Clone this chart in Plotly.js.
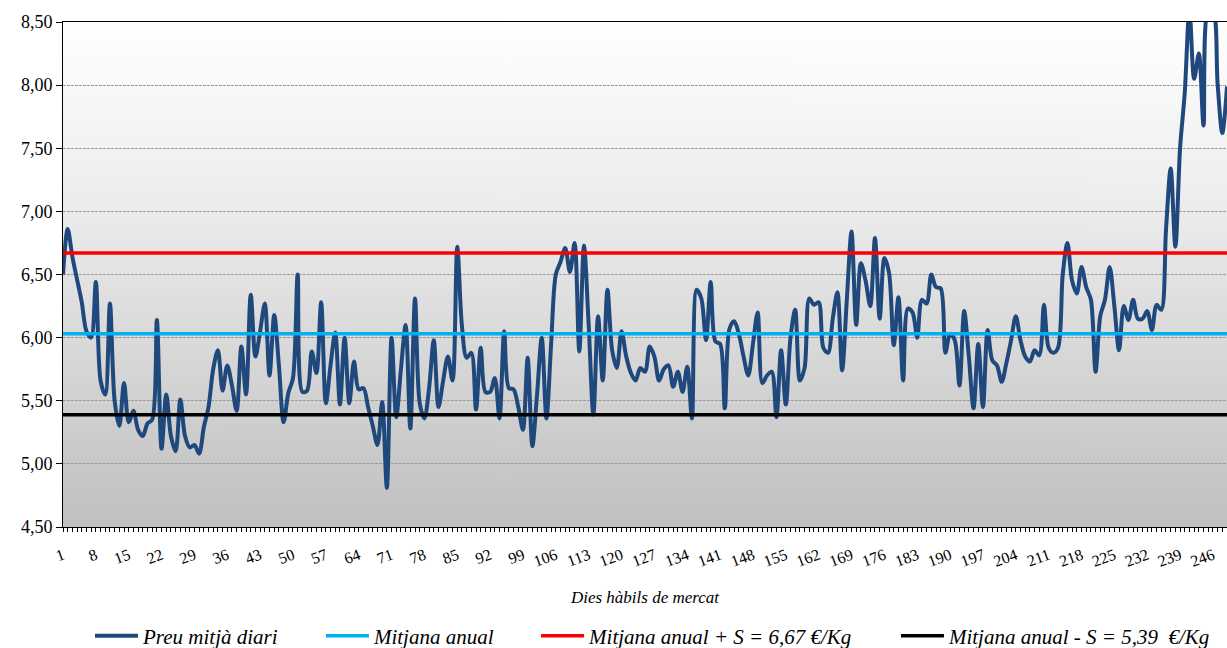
<!DOCTYPE html>
<html><head><meta charset="utf-8">
<script src="https://cdn.plot.ly/plotly-3.0.1.min.js"></script>
<style>html,body{margin:0;padding:0;background:#fff}#chart{width:1227px;height:648px}</style>
</head><body><div id="chart"></div>
<script>
// Category axis: market working days
const days = Array.from({length: 249}, (_, i) => i + 1);

// Daily mean price (€/Kg)
const preuMitjaDiari = [
  6.50, 6.86, 6.64, 6.46, 6.28, 6.05, 6.00, 6.44, 5.66, 5.55,
  6.27, 5.50, 5.30, 5.64, 5.33, 5.42, 5.27, 5.22, 5.32, 5.35,
  6.14, 5.12, 5.55, 5.22, 5.10, 5.51, 5.22, 5.13, 5.15, 5.08,
  5.29, 5.45, 5.75, 5.90, 5.58, 5.78, 5.62, 5.42, 5.93, 5.55,
  6.34, 5.85, 6.05, 6.27, 5.70, 6.18, 5.78, 5.33, 5.56, 5.68,
  6.50, 5.57, 5.58, 5.89, 5.72, 6.28, 5.48, 5.78, 6.04, 5.47,
  6.00, 5.48, 5.81, 5.59, 5.60, 5.45, 5.30, 5.15, 5.49, 4.81,
  6.00, 5.37, 5.75, 6.10, 5.28, 6.31, 5.48, 5.36, 5.60, 5.98,
  5.45, 5.66, 5.85, 5.66, 6.72, 6.09, 5.84, 5.88, 5.43, 5.92,
  5.57, 5.57, 5.68, 5.36, 6.05, 5.60, 5.59, 5.45, 5.27, 5.84,
  5.14, 5.55, 6.00, 5.36, 5.95, 6.50, 6.60, 6.71, 6.52, 6.75,
  5.89, 6.73, 6.10, 5.39, 6.17, 5.66, 6.38, 5.90, 5.76, 6.05,
  5.85, 5.72, 5.66, 5.76, 5.73, 5.93, 5.85, 5.66, 5.75, 5.78,
  5.61, 5.73, 5.57, 5.77, 5.36, 6.38, 6.31, 5.98, 6.44, 5.97,
  5.95, 5.44, 6.07, 6.13, 6.03, 5.85, 5.70, 5.95, 6.20, 5.64,
  5.70, 5.73, 5.37, 5.90, 5.47, 6.00, 6.22, 5.66, 5.76, 6.31,
  6.26, 6.28, 5.92, 5.88, 6.15, 6.36, 5.74, 6.30, 6.84, 6.10,
  6.59, 6.45, 6.25, 6.79, 6.15, 6.63, 6.51, 5.94, 6.32, 5.66,
  6.23, 6.20, 6.00, 6.30, 6.27, 6.50, 6.40, 6.39, 5.88, 6.03,
  5.98, 5.62, 6.21, 5.85, 5.44, 5.95, 5.45, 6.06, 5.82, 5.78,
  5.65, 5.80, 5.98, 6.17, 5.98, 5.85, 5.81, 5.90, 5.86, 6.26,
  5.92, 5.88, 5.92, 6.50, 6.75, 6.45, 6.35, 6.56, 6.40, 6.30,
  5.73, 6.17, 6.30, 6.56, 6.25, 5.90, 6.25, 6.14, 6.30, 6.15,
  6.15, 6.21, 6.06, 6.26, 6.22, 6.85, 7.34, 6.72, 7.50, 7.94,
  8.60, 8.05, 8.25, 7.68, 8.60, 8.60, 8.01, 7.62, 7.99
];

// Reference levels
const mitjanaAnual = 6.03;
const mitjanaMesS = 6.67;
const mitjanaMenysS = 5.39;

const seriesNames = [
  'Preu mitjà diari',
  'Mitjana anual',
  'Mitjana anual + S = 6,67 €/Kg',
  'Mitjana anual - S = 5,39  €/Kg'
];
const xTitle = 'Dies hàbils de mercat';

const serif = 'Liberation Serif, Times New Roman, serif';

// Background gradient (style only)
const cv = document.createElement('canvas');
cv.width = 4; cv.height = 256;
const ctx = cv.getContext('2d');
const g = ctx.createLinearGradient(0, 0, 0, 256);
g.addColorStop(0, '#ffffff');
g.addColorStop(0.35, '#ededed');
g.addColorStop(1, '#c0c0c0');
ctx.fillStyle = g; ctx.fillRect(0, 0, 4, 256);

const traces = [
  {x: days, y: preuMitjaDiari, name: seriesNames[0], type: 'scatter', mode: 'lines',
   line: {color: '#1F497D', width: 4, shape: 'spline', smoothing: 0.9}, legend: 'legend'},
  {x: days, y: days.map(() => mitjanaAnual), name: seriesNames[1], type: 'scatter', mode: 'lines',
   line: {color: '#00B0F0', width: 3.5}, legend: 'legend2'},
  {x: days, y: days.map(() => mitjanaMesS), name: seriesNames[2], type: 'scatter', mode: 'lines',
   line: {color: '#FF0000', width: 3.5}, legend: 'legend3'},
  {x: days, y: days.map(() => mitjanaMenysS), name: seriesNames[3], type: 'scatter', mode: 'lines',
   line: {color: '#000000', width: 3.5}, legend: 'legend4'}
];

const legendFont = {family: serif, size: 21, style: 'italic', color: '#000'};
function leg(x) {
  return {orientation: 'h', x: x, xanchor: 'left', y: -0.216, yanchor: 'middle',
          font: legendFont, bgcolor: 'rgba(0,0,0,0)', borderwidth: 0, itemwidth: 43};
}

const layout = {
  width: 1227, height: 648,
  margin: {l: 63, r: 0, t: 22, b: 121, autoexpand: false},
  paper_bgcolor: '#ffffff',
  plot_bgcolor: 'rgba(0,0,0,0)',
  separators: ',.',
  showlegend: true,
  images: [{source: cv.toDataURL(), xref: 'paper', yref: 'paper', x: 0, y: 1,
            sizex: 1, sizey: 1, sizing: 'stretch', xanchor: 'left', yanchor: 'top', layer: 'below'}],
  xaxis: {
    range: [1, 249], showline: true, linecolor: '#000', linewidth: 1, mirror: true,
    ticks: 'outside', ticklen: 4, tickcolor: '#000', tickmode: 'linear', tick0: 1, dtick: 7,
    tickangle: -20, tickfont: {family: serif, size: 16, color: '#000'}, ticklabelstandoff: 8,
    showgrid: false, zeroline: false, automargin: false,
    minor: {dtick: 1, tick0: 1, ticks: 'outside', ticklen: 4, tickcolor: '#000', showgrid: false},
    title: {text: xTitle, font: {family: serif, size: 17, style: 'italic', color: '#000'}, standoff: 22}
  },
  yaxis: {
    range: [4.5, 8.5], showline: true, linecolor: '#000', linewidth: 1, automargin: false,
    ticks: 'outside', ticklen: 6, tickcolor: '#000', tickmode: 'linear', tick0: 4.5, dtick: 0.5,
    tickformat: '.2f', tickfont: {family: serif, size: 18, color: '#000'},
    showgrid: true, gridcolor: '#9a9a9a', griddash: '3px,1px', gridwidth: 1, zeroline: false
  },
  legend: leg(0.0232),
  legend2: leg(0.2216),
  legend3: leg(0.4064),
  legend4: leg(0.7156)
};

Plotly.newPlot('chart', traces, layout, {displayModeBar: false, staticPlot: true});
</script>
</body></html>
